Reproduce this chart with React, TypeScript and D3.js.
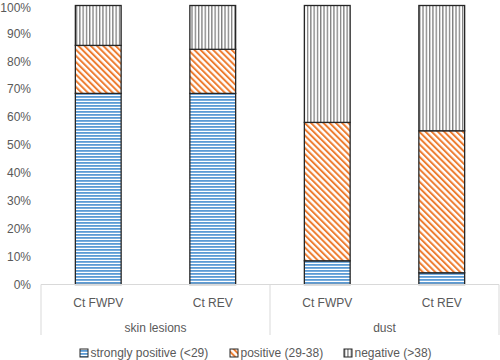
import * as d3 from 'd3';

// stacked shares (%) per bar
const categories = ['Ct FWPV', 'Ct REV', 'Ct FWPV', 'Ct REV'];
const groups = ['skin lesions', 'dust'];
const groupOf = ['skin lesions', 'skin lesions', 'dust', 'dust'];
const stronglyPositive = [68.5, 68.5, 8.5, 4.2];
const positive = [17.2, 15.8, 49.6, 50.9];
const negative = [14.3, 15.7, 41.9, 44.9];
const seriesNames = ['strongly positive (<29)', 'positive (29-38)', 'negative (>38)'];
const yTicks = [0, 10, 20, 30, 40, 50, 60, 70, 80, 90, 100];

const W = 500;
const H = 360;
const PLOT = { left: 41, right: 499, top: 5.5, bottom: 284.5 };
const FONT = '"Liberation Sans", Arial, sans-serif';
const TEXT = '#595959';
const FS = 12;
const KEYS = ['strong', 'pos', 'neg'];
const FILLS = ['url(#pat-blue)', 'url(#pat-orange)', 'url(#pat-gray)'];

export default function App() {
  const rows = categories.map((c, i) => ({
    idx: String(i),
    strong: stronglyPositive[i],
    pos: positive[i],
    neg: negative[i],
  }));

  const x = d3.scaleBand<string>()
    .domain(rows.map(r => r.idx))
    .range([PLOT.left, PLOT.right])
    .paddingInner(0.6)
    .paddingOuter(0.3);
  const y = d3.scaleLinear().domain([0, 100]).range([PLOT.bottom, PLOT.top]);

  const stacked = d3.stack<typeof rows[number]>().keys(KEYS)(rows);

  // group extents on the category axis
  const step = x.step();
  const groupSpans = groups.map(g => {
    const ids = groupOf.map((gg, i) => (gg === g ? i : -1)).filter(i => i >= 0);
    const x0 = x(String(ids[0]))! + x.bandwidth() / 2 - step / 2;
    const x1 = x(String(ids[ids.length - 1]))! + x.bandwidth() / 2 + step / 2;
    return { g, x0, x1 };
  });

  const legendX = [80, 230, 344];

  return (
    <svg width={W} height={H} style={{ position: 'absolute', left: 0, top: 0, background: '#fff' }}>
      <defs>
        <pattern id="pat-blue" patternUnits="userSpaceOnUse" width={4} height={3}>
          <rect width={4} height={3} fill="#fff" />
          <rect width={4} height={1.8} fill="#5B9BD5" />
        </pattern>
        <pattern id="pat-orange" patternUnits="userSpaceOnUse" width={4.4} height={6} patternTransform="rotate(-45)">
          <rect width={4.4} height={6} fill="#fff" />
          <rect width={2} height={6} fill="#ED7D31" />
        </pattern>
        <pattern id="pat-gray" patternUnits="userSpaceOnUse" width={3.3} height={4}>
          <rect width={3.3} height={4} fill="#fff" />
          <rect width={1.3} height={4} fill="#7F7F7F" />
        </pattern>
      </defs>

      {/* y axis labels (top one nudged so it isn't clipped) */}
      {yTicks.map(t => (
        <text key={t} x={31} y={Math.max(y(t), 7.5)} dy="0.35em" textAnchor="end"
          fontFamily={FONT} fontSize={FS} fill={TEXT}>{`${t}%`}</text>
      ))}

      {/* bars */}
      {stacked.map((s, si) => (
        <g key={s.key}>
          {s.map((d, i) => (
            <rect key={i}
              x={x(String(i))}
              y={y(d[1])}
              width={x.bandwidth()}
              height={y(d[0]) - y(d[1])}
              fill={FILLS[si]}
              stroke="#262626"
              strokeWidth={1.3} />
          ))}
        </g>
      ))}

      {/* category axis */}
      <line x1={PLOT.left} x2={PLOT.right} y1={PLOT.bottom} y2={PLOT.bottom} stroke="#D9D9D9" strokeWidth={1} />
      {[PLOT.left, ...groupSpans.map(s => s.x1)].map((xx, i) => (
        <line key={i} x1={xx} x2={xx} y1={PLOT.bottom} y2={335} stroke="#D9D9D9" strokeWidth={1} />
      ))}
      {rows.map((r, i) => (
        <text key={i} x={x(r.idx)! + x.bandwidth() / 2} y={303} dy="0.35em" textAnchor="middle"
          fontFamily={FONT} fontSize={FS} fill={TEXT}>{categories[i]}</text>
      ))}
      {groupSpans.map(s => (
        <text key={s.g} x={(s.x0 + s.x1) / 2} y={328} dy="0.35em" textAnchor="middle"
          fontFamily={FONT} fontSize={FS} fill={TEXT}>{s.g}</text>
      ))}

      {/* legend */}
      {seriesNames.map((n, i) => (
        <g key={n} transform={`translate(${legendX[i]},353)`}>
          <rect x={0} y={-4} width={8} height={8} fill={FILLS[i]} stroke="#262626" strokeWidth={1} />
          <text x={10.5} y={0} dy="0.35em" fontFamily={FONT} fontSize={FS} fill={TEXT}>{n}</text>
        </g>
      ))}
    </svg>
  );
}
